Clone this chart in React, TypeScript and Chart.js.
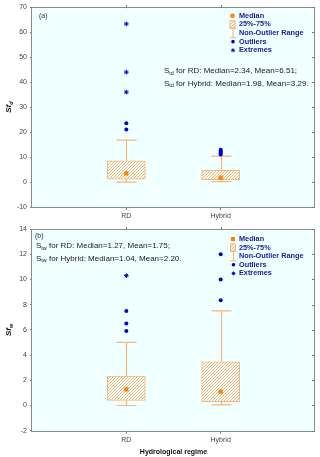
import React, { useEffect, useRef } from 'react';
import { Chart, registerables } from 'chart.js';

Chart.register(...registerables);

// ---------- data ----------
const categories = ['RD', 'Hybrid'];
const categoryX = [1, 2];

const sfdLow = [0, 0.15];
const sfdQ1 = [1.1, 0.95];
const sfdMedian = [3.5, 1.75];
const sfdQ3 = [8.5, 4.7];
const sfdHigh = [16.8, 10.4];
const sfdOutliers = [[21.0, 23.5], [11.0, 11.5, 12.0, 12.4, 12.9]];
const sfdExtremes = [[36.0, 44.0, 63.3], []];
const sfdTicks = [-10, 0, 10, 20, 30, 40, 50, 60, 70];
const sfdNotes = [' for RD: Median=2.34, Mean=6.51;', ' for Hybrid: Median=1.98, Mean=3.29.'];

const sfwLow = [0, 0.05];
const sfwQ1 = [0.4, 0.3];
const sfwMedian = [1.28, 1.1];
const sfwQ3 = [2.33, 3.47];
const sfwHigh = [5.0, 7.5];
const sfwOutliers = [[5.9, 6.5, 7.5], [8.35, 10.0, 12.0]];
const sfwExtremes = [[10.3], []];
const sfwTicks = [-2, 0, 2, 4, 6, 8, 10, 12, 14];
const sfwNotes = [' for RD: Median=1.27, Mean=1.75;', ' for Hybrid: Median=1.04, Mean=2.20.'];

const legendLabels = ['Median', '25%-75%', 'Non-Outlier Range', 'Outliers', 'Extremes'];
const xAxisTitle = 'Hydrological regime';

// ---------- styles ----------
const FAMILY = '"Liberation Sans", Arial, Helvetica, sans-serif';
const BG = '#F0FFFF';
const BOX = '#F5B77A';
const HATCH = '#F5B272';
const MEDIAN = '#FF7F00';
const BLUE = '#0000CC';
const LEGEND_TEXT = '#1A1A90';
const FRAME = '#8A8A8A';

function makeHatch(): CanvasPattern | string {
  const n = 3;
  const c = document.createElement('canvas');
  c.width = n;
  c.height = n;
  const g = c.getContext('2d');
  if (!g) return BG;
  g.fillStyle = BG;
  g.fillRect(0, 0, n, n);
  g.fillStyle = HATCH;
  for (let k = 0; k < n; k++) g.fillRect(n - 1 - k, k, 1, 1);
  return g.createPattern(c, 'repeat') || BG;
}

interface Layout {
  padTop: number;
  xAxisHeight: number;
  noteX: number;
  noteY: number[];
  labelX: number;
  labelY: number;
  legendMarkX: number;
  legendTextX: number;
  legendY: number;
  legendGap: number;
  showXTitle: boolean;
}

interface PanelProps {
  top: number;
  height: number;
  low: number[];
  q1: number[];
  median: number[];
  q3: number[];
  high: number[];
  outliers: number[][];
  extremes: number[][];
  ticks: number[];
  notes: string[];
  noteSub: string;
  panelLabel: string;
  ySub: string;
  layout: Layout;
}

function drawSub(
  ctx: CanvasRenderingContext2D,
  x: number,
  y: number,
  main: string,
  sub: string,
  rest: string,
  size: number,
  style: string,
  measureOnly = false
): number {
  const mainFont = `${style} ${size}px ${FAMILY}`;
  const subFont = `${style} ${size * 0.68}px ${FAMILY}`;
  ctx.font = mainFont;
  const w1 = ctx.measureText(main).width;
  ctx.font = subFont;
  const w2 = ctx.measureText(sub).width;
  ctx.font = mainFont;
  const w3 = ctx.measureText(rest).width;
  if (measureOnly) return w1 + w2 + w3;
  ctx.font = mainFont;
  ctx.fillText(main, x, y);
  ctx.font = subFont;
  ctx.fillText(sub, x + w1, y + size * 0.25);
  ctx.font = mainFont;
  ctx.fillText(rest, x + w1 + w2, y);
  return w1 + w2 + w3;
}

function drawStar(ctx: CanvasRenderingContext2D, x: number, y: number, r: number) {
  ctx.beginPath();
  for (let k = 0; k < 4; k++) {
    const ang = (k * Math.PI) / 4;
    ctx.moveTo(x - r * Math.cos(ang), y - r * Math.sin(ang));
    ctx.lineTo(x + r * Math.cos(ang), y + r * Math.sin(ang));
  }
  ctx.stroke();
}

function makePlugin(p: PanelProps, pattern: CanvasPattern | string) {
  const L = p.layout;
  return {
    id: 'boxDecor',
    beforeDraw(chart: any) {
      const { ctx, chartArea: a } = chart;
      ctx.save();
      ctx.fillStyle = BG;
      ctx.fillRect(a.left, a.top, a.right - a.left, a.bottom - a.top);
      ctx.restore();
    },
    beforeDatasetsDraw(chart: any) {
      const { ctx } = chart;
      const xs = chart.scales.x;
      const ys = chart.scales.y;
      ctx.save();
      ctx.strokeStyle = BOX;
      ctx.lineWidth = 1.2;
      categoryX.forEach((cx, i) => {
        const x = Math.round(xs.getPixelForValue(cx)) + 0.5;
        const yHigh = ys.getPixelForValue(p.high[i]);
        const yQ3 = ys.getPixelForValue(p.q3[i]);
        const yLow = ys.getPixelForValue(p.low[i]);
        const yQ1 = ys.getPixelForValue(p.q1[i]);
        ctx.beginPath();
        ctx.moveTo(x, yQ3);
        ctx.lineTo(x, yHigh);
        ctx.moveTo(x - 10, yHigh);
        ctx.lineTo(x + 10, yHigh);
        ctx.moveTo(x, yQ1);
        ctx.lineTo(x, yLow);
        ctx.moveTo(x - 10, yLow);
        ctx.lineTo(x + 10, yLow);
        ctx.stroke();
      });
      ctx.restore();
    },
    afterDraw(chart: any) {
      const { ctx, chartArea: a } = chart;
      const xs = chart.scales.x;
      const ys = chart.scales.y;
      ctx.save();
      // frame
      ctx.strokeStyle = FRAME;
      ctx.lineWidth = 1;
      ctx.strokeRect(Math.round(a.left) - 0.5, Math.round(a.top) + 0.5, Math.round(a.right - a.left), Math.round(a.bottom - a.top));
      // inner ticks on right and top
      ctx.strokeStyle = '#777';
      p.ticks.forEach((t) => {
        const y = Math.round(ys.getPixelForValue(t)) + 0.5;
        ctx.beginPath();
        ctx.moveTo(a.right - 3, y);
        ctx.lineTo(a.right, y);
        ctx.stroke();
      });
      categoryX.forEach((cx) => {
        const x = Math.round(xs.getPixelForValue(cx)) + 0.5;
        ctx.beginPath();
        ctx.moveTo(x, a.top - 2);
        ctx.lineTo(x, a.top + 1);
        ctx.stroke();
      });

      // panel label
      ctx.fillStyle = '#333';
      ctx.font = `7px ${FAMILY}`;
      ctx.textBaseline = 'middle';
      ctx.textAlign = 'left';
      ctx.fillText(p.panelLabel, L.labelX, L.labelY);

      // notes
      ctx.fillStyle = '#1a1a1a';
      p.notes.forEach((n, i) => {
        drawSub(ctx, L.noteX, L.noteY[i], 'S', p.noteSub, n, 8, 'normal');
      });

      // legend
      const mx = L.legendMarkX;
      legendLabels.forEach((lab, i) => {
        const cy = L.legendY + i * L.legendGap;
        if (i === 0) {
          ctx.fillStyle = MEDIAN;
          ctx.fillRect(mx - 2, cy - 2, 4, 4);
        } else if (i === 1) {
          ctx.fillStyle = pattern as any;
          ctx.fillRect(mx - 3, cy - 4, 6, 8);
          ctx.strokeStyle = BOX;
          ctx.lineWidth = 1;
          ctx.strokeRect(mx - 2.5, cy - 3.5, 5, 7);
        } else if (i === 2) {
          ctx.strokeStyle = BOX;
          ctx.lineWidth = 1;
          ctx.beginPath();
          ctx.moveTo(mx + 0.5, cy - 4);
          ctx.lineTo(mx + 0.5, cy + 4);
          ctx.moveTo(mx - 2.5, cy + 4.5);
          ctx.lineTo(mx + 3.5, cy + 4.5);
          ctx.moveTo(mx - 2.5, cy - 4.5);
          ctx.lineTo(mx + 3.5, cy - 4.5);
          ctx.stroke();
        } else if (i === 3) {
          ctx.fillStyle = BLUE;
          ctx.beginPath();
          ctx.arc(mx + 0.5, cy, 1.8, 0, Math.PI * 2);
          ctx.fill();
        } else {
          ctx.strokeStyle = BLUE;
          ctx.lineWidth = 0.9;
          drawStar(ctx, mx + 0.5, cy, 2);
        }
        ctx.fillStyle = LEGEND_TEXT;
        ctx.font = `bold 7.3px ${FAMILY}`;
        ctx.textBaseline = 'middle';
        ctx.fillText(lab, L.legendTextX, cy);
      });

      // y title (rotated)
      const cyT = (a.top + a.bottom) / 2;
      ctx.translate(9, cyT);
      ctx.rotate(-Math.PI / 2);
      ctx.fillStyle = '#111';
      ctx.textBaseline = 'middle';
      const w = drawSub(ctx, 0, 0, 'Sf', p.ySub, '', 8, 'italic bold', true);
      drawSub(ctx, -w / 2, 0, 'Sf', p.ySub, '', 8, 'italic bold');
      ctx.restore();
    },
  };
}

function Panel(p: PanelProps) {
  const ref = useRef<HTMLCanvasElement | null>(null);
  useEffect(() => {
    if (!ref.current) return;
    const pattern = makeHatch();
    const pts = (vals: number[][]) => vals.flatMap((arr, i) => arr.map((v) => ({ x: categoryX[i], y: v })));
    const L = p.layout;
    const chart = new Chart(ref.current, {
      type: 'scatter',
      data: {
        datasets: [
          {
            type: 'bar',
            data: categoryX.map((x, i) => ({ x, y: [p.q1[i], p.q3[i]] })) as any,
            backgroundColor: pattern as any,
            borderColor: BOX,
            borderWidth: 1,
            borderSkipped: false,
            barThickness: 38,
            order: 10,
          } as any,
          {
            type: 'scatter',
            data: categoryX.map((x, i) => ({ x, y: p.median[i] })),
            pointStyle: 'rect',
            pointRadius: 3,
            backgroundColor: MEDIAN,
            borderWidth: 0,
            order: 1,
          },
          {
            type: 'scatter',
            data: pts(p.outliers),
            pointStyle: 'circle',
            pointRadius: 2,
            backgroundColor: BLUE,
            borderWidth: 0,
            order: 1,
          },
          {
            type: 'scatter',
            data: pts(p.extremes),
            pointStyle: 'star',
            pointRadius: 2.3,
            borderColor: BLUE,
            backgroundColor: BLUE,
            borderWidth: 1,
            order: 1,
          },
        ],
      },
      options: {
        responsive: false,
        animation: false,
        devicePixelRatio: 1,
        events: [],
        layout: { padding: { left: 0, right: 3, top: L.padTop, bottom: 0 } },
        plugins: { legend: { display: false }, tooltip: { enabled: false } },
        scales: {
          x: {
            type: 'linear',
            min: 0,
            max: 3,
            offset: false,
            afterBuildTicks: (s: any) => {
              s.ticks = categoryX.map((v) => ({ value: v }));
            },
            afterFit: (s: any) => {
              s.height = L.xAxisHeight;
            },
            ticks: {
              autoSkip: false,
              maxRotation: 0,
              padding: 2,
              color: '#444',
              font: { size: 7, family: FAMILY },
              callback: (v: any) => {
                const idx = categoryX.indexOf(Number(v));
                return idx >= 0 ? categories[idx] : '';
              },
            },
            grid: { offset: false, drawOnChartArea: false, drawTicks: true, tickLength: 3, color: '#777' },
            border: { display: false },
            title: {
              display: L.showXTitle,
              text: xAxisTitle,
              color: '#111',
              font: { size: 7, weight: 'bold', family: FAMILY },
              padding: { top: 0, bottom: 1 },
            },
          },
          y: {
            type: 'linear',
            min: p.ticks[0],
            max: p.ticks[p.ticks.length - 1],
            afterBuildTicks: (s: any) => {
              s.ticks = p.ticks.map((v) => ({ value: v }));
            },
            afterFit: (s: any) => {
              s.width = 32;
            },
            ticks: { padding: 3, color: '#444', font: { size: 7, family: FAMILY } },
            grid: { drawOnChartArea: false, drawTicks: true, tickLength: 2, color: '#777' },
            border: { display: false },
          },
        },
      } as any,
      plugins: [makePlugin(p, pattern)],
    });
    return () => chart.destroy();
  }, []);
  return (
    <canvas
      ref={ref}
      width={320}
      height={p.height}
      style={{ position: 'absolute', left: 0, top: p.top, width: 320, height: p.height, display: 'block' }}
    />
  );
}

export default function App() {
  return (
    <div style={{ position: 'absolute', left: 0, top: 0, width: 320, height: 457, background: '#fff' }}>
      <Panel
        top={0}
        height={220}
        low={sfdLow}
        q1={sfdQ1}
        median={sfdMedian}
        q3={sfdQ3}
        high={sfdHigh}
        outliers={sfdOutliers}
        extremes={sfdExtremes}
        ticks={sfdTicks}
        notes={sfdNotes}
        noteSub="td"
        panelLabel="(a)"
        ySub="d"
        layout={{
          padTop: 6,
          xAxisHeight: 13,
          noteX: 164,
          noteY: [71, 83.5],
          labelX: 39,
          labelY: 16,
          legendMarkX: 232.5,
          legendTextX: 239,
          legendY: 15.7,
          legendGap: 8.65,
          showXTitle: false,
        }}
      />
      <Panel
        top={220}
        height={237}
        low={sfwLow}
        q1={sfwQ1}
        median={sfwMedian}
        q3={sfwQ3}
        high={sfwHigh}
        outliers={sfwOutliers}
        extremes={sfwExtremes}
        ticks={sfwTicks}
        notes={sfwNotes}
        noteSub="tw"
        panelLabel="(b)"
        ySub="w"
        layout={{
          padTop: 9,
          xAxisHeight: 26.3,
          noteX: 36,
          noteY: [26, 38.5],
          labelX: 35,
          labelY: 15.7,
          legendMarkX: 233,
          legendTextX: 239,
          legendY: 19,
          legendGap: 8.6,
          showXTitle: true,
        }}
      />
    </div>
  );
}
